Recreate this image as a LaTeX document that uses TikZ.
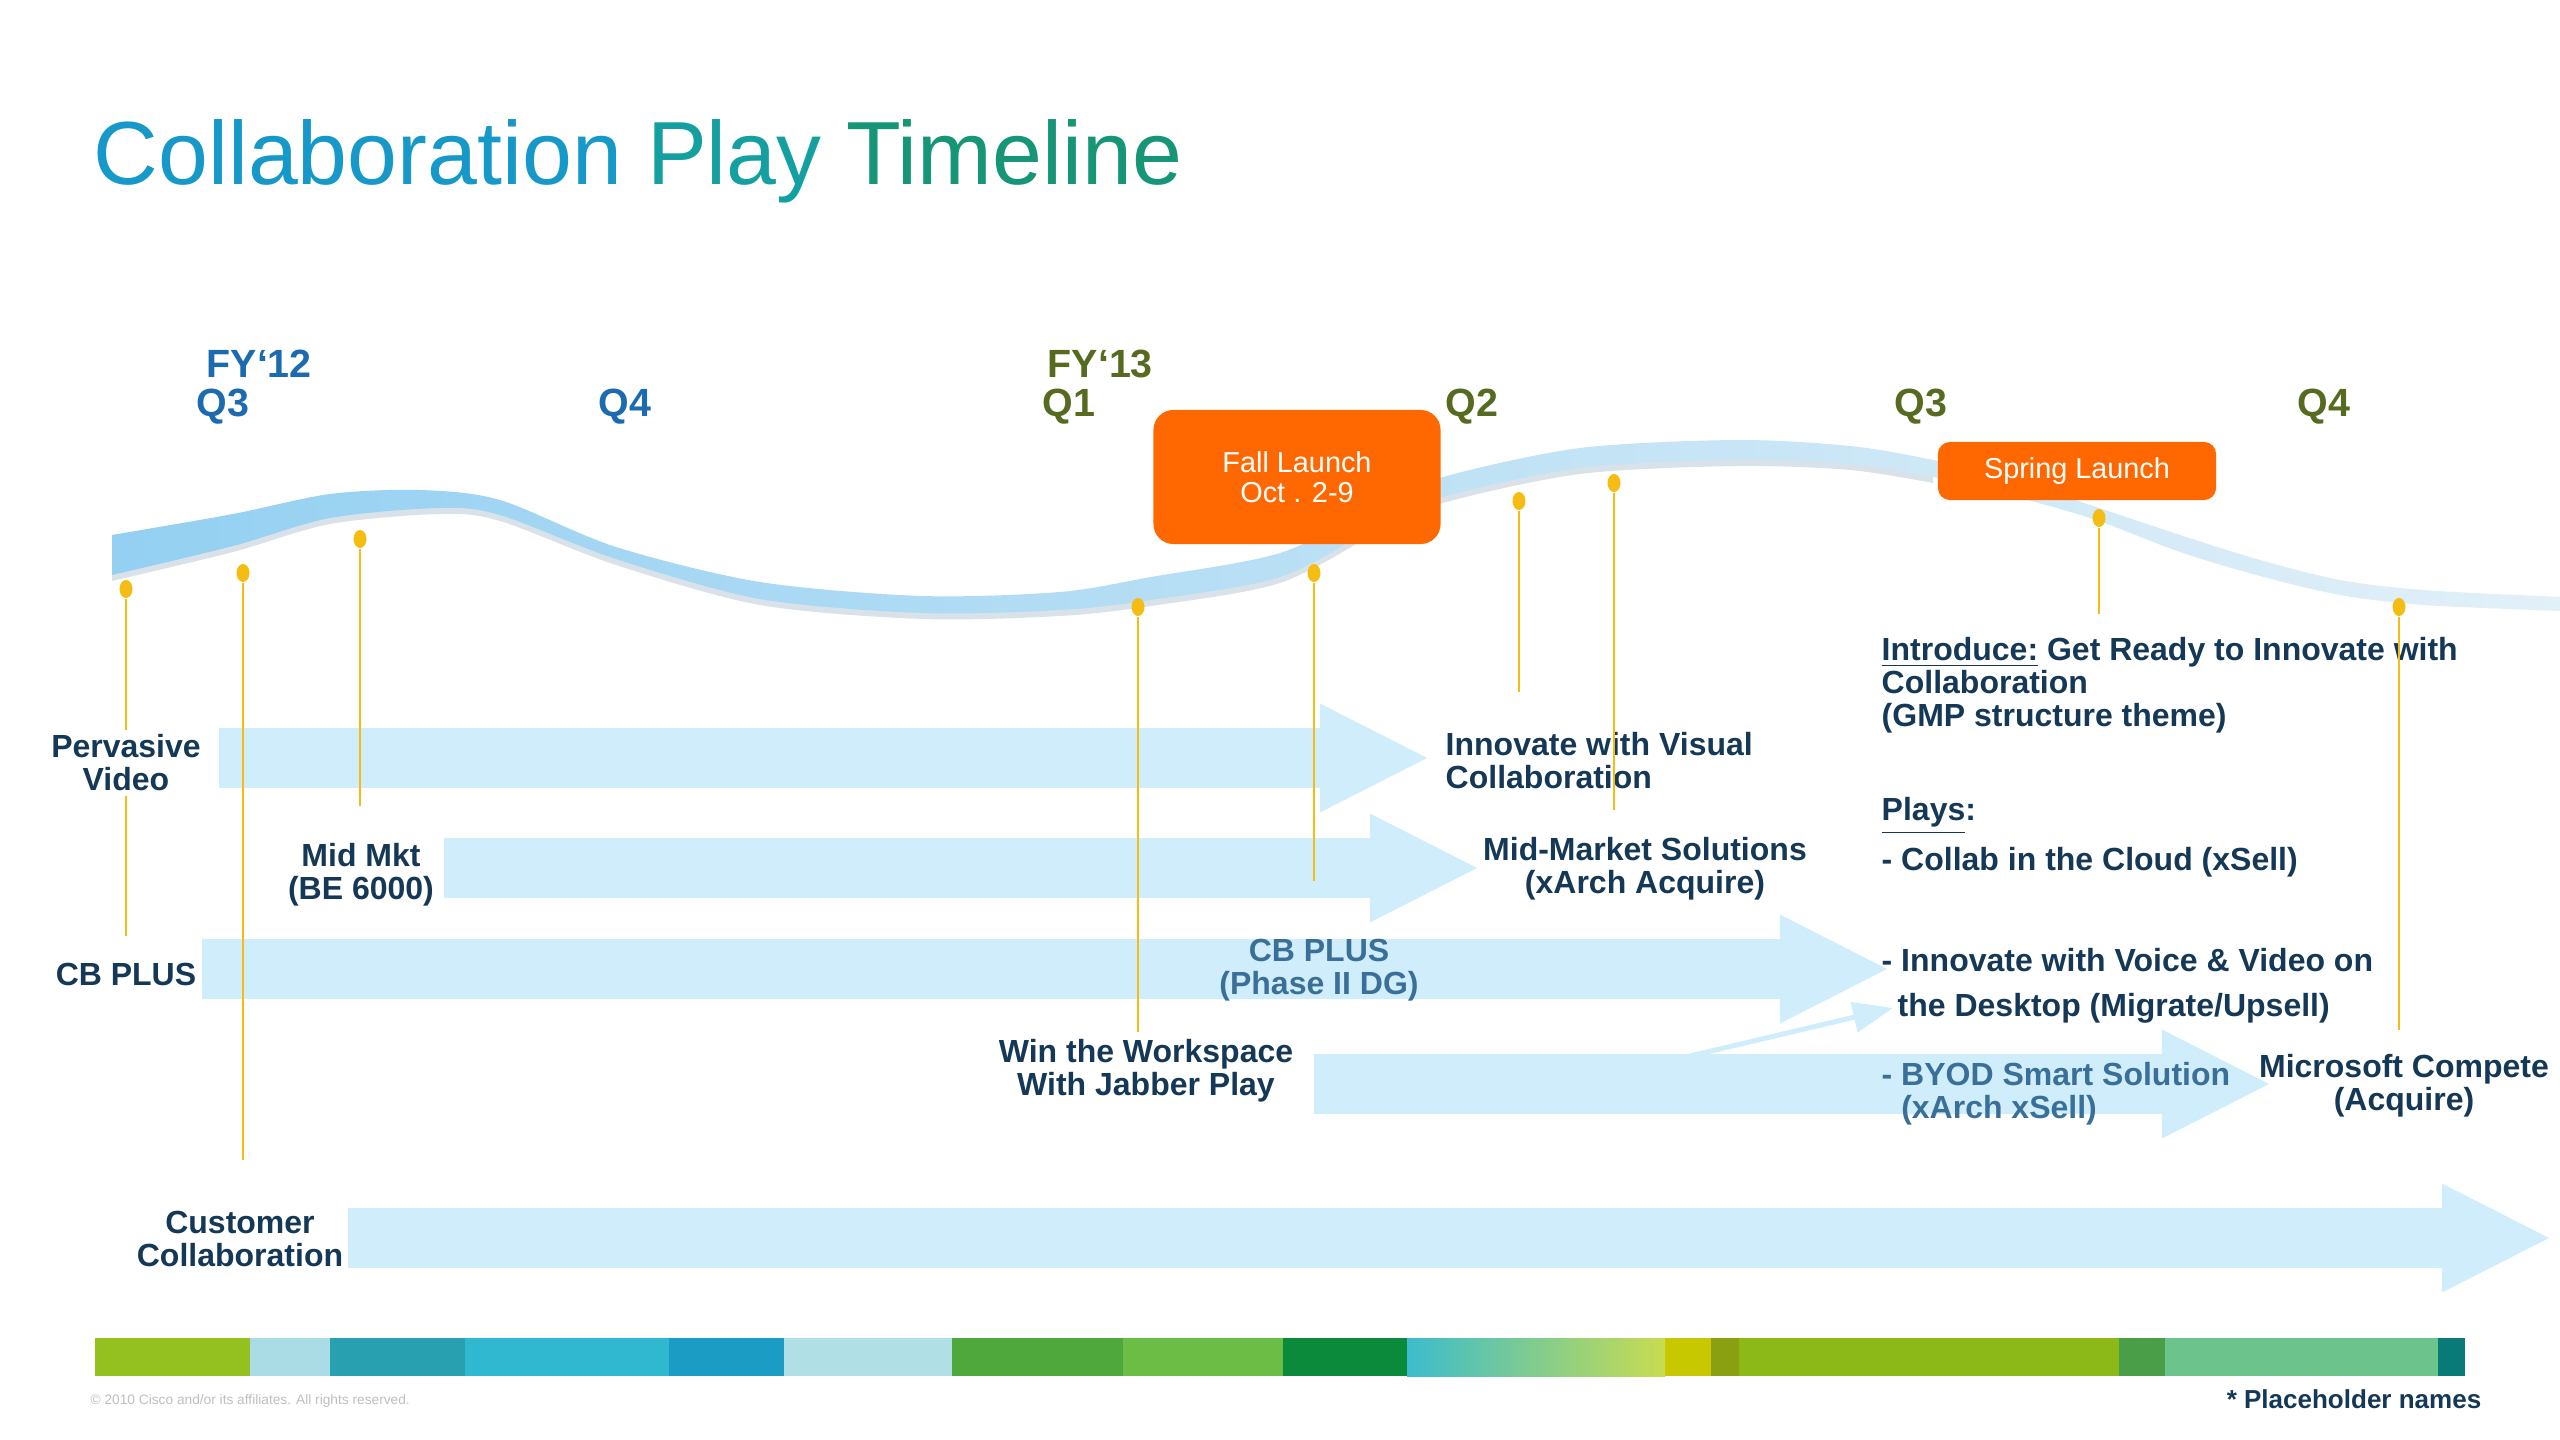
\documentclass[tikz,border=0pt]{standalone}
\usepackage{fontspec}
\setmainfont{Liberation Sans}
\usetikzlibrary{arrows.meta, shapes.geometric}
\definecolor{navyText}{RGB}{20,56,86}
\definecolor{steelText}{RGB}{58,112,152}
\definecolor{qBlue}{RGB}{28,106,176}
\definecolor{qOlive}{RGB}{86,106,32}
\definecolor{titleA}{RGB}{22,152,200}
\definecolor{titleB}{RGB}{20,160,160}
\definecolor{titleC}{RGB}{22,150,118}
\definecolor{launchOrange}{RGB}{255,104,0}
\definecolor{pinGold}{RGB}{245,188,20}
\definecolor{bandBlue}{RGB}{208,237,251}
\definecolor{ribbonBlue}{RGB}{148,208,242}
\definecolor{ribbonMid}{RGB}{168,216,240}
\definecolor{ribbonFade}{RGB}{226,240,248}
\definecolor{ribbonShade}{RGB}{170,190,205}
\definecolor{copyGray}{RGB}{190,190,190}
\definecolor{stripA}{RGB}{148,193,31}
\definecolor{stripB}{RGB}{170,220,230}
\definecolor{stripC}{RGB}{40,160,176}
\definecolor{stripD}{RGB}{48,184,208}
\definecolor{stripE}{RGB}{26,156,196}
\definecolor{stripF}{RGB}{176,223,230}
\definecolor{stripG}{RGB}{78,168,60}
\definecolor{stripH}{RGB}{108,189,69}
\definecolor{stripI}{RGB}{10,138,58}
\definecolor{stripJ}{RGB}{60,188,204}
\definecolor{stripK}{RGB}{200,220,80}
\definecolor{stripL}{RGB}{200,200,0}
\definecolor{stripM}{RGB}{138,160,16}
\definecolor{stripN}{RGB}{140,184,24}
\definecolor{stripO}{RGB}{74,158,72}
\definecolor{stripP}{RGB}{108,195,140}
\definecolor{stripQ}{RGB}{10,122,120}
\newcommand{\lblfont}{\bfseries\fontsize{9.1}{9.4}\selectfont}
\newcommand{\qfont}{\bfseries\fontsize{11.2}{12}\selectfont}
\tikzset{
    lbl/.style={inner sep=0.04cm, text=navyText, font=\lblfont, align=center},
    lblLeft/.style={lbl, anchor=west, align=left},
    qLabel/.style={inner sep=0.04cm, anchor=west, font=\qfont},
    launchBox/.style={rectangle, fill=launchOrange, text=white, align=center, font=\fontsize{8.2}{8.5}\selectfont},
    pinDot/.style={ellipse, fill=pinGold, inner sep=0pt, minimum width=1.3mm, minimum height=1.8mm},
    pinLine/.style={draw=pinGold, line width=0.6pt},
    bandArrow/.style={draw=bandBlue, line width=6mm, -{Triangle[length=11mm, width=10mm]}},
    thinArrow/.style={draw=bandBlue, line width=0.5mm, -{Triangle[length=4mm, width=3mm]}},
}
\newcommand{\drawPin}[4]{
    % 圆点与竖线
    \node[pinDot] (#1) at (#2,#3) {};
    \coordinate (#1end) at (#2,#4);
    \draw[pinLine] (#1) -- (#1end);
}
\newcommand{\drawBand}[3]{
    % 从标签右侧到箭头尖
    \coordinate (#1tip) at (#3);
    \draw[bandArrow] (#2.east |- #1tip) -- (#1tip);
}

\begin{document}
\begin{tikzpicture}[x=0.01cm, y=-0.01cm]
    \useasboundingbox (0,0) rectangle (2560,1440);

    \node[anchor=base west, inner sep=0pt, font=\fontsize{25.5}{26}\selectfont] (title) at (93,185)
        {\textcolor{titleA}{Collaboration} \textcolor{titleB}{Play} \textcolor{titleC}{Timeline}};

    \node[qLabel, text=qBlue] (fy12) at (202,364) {FY`12};
    \node[qLabel, text=qBlue] (qa3) at (192,407) {Q3};
    \node[qLabel, text=qBlue] (qa4) at (594,407) {Q4};
    \node[qLabel, text=qOlive] (fy13) at (1043,364) {FY`13};
    \node[qLabel, text=qOlive] (qb1) at (1038,407) {Q1};
    \node[qLabel, text=qOlive] (qb2) at (1441,407) {Q2};
    \node[qLabel, text=qOlive] (qb3) at (1890,407) {Q3};
    \node[qLabel, text=qOlive] (qb4) at (2293,407) {Q4};

    \fill[ribbonShade, opacity=0.45, shift={(0,6)}] plot[smooth] coordinates {(112,535) (233,514) (330,494) (420,490) (500,500) (616,547) (760,582) (922,596) (1060,592) (1151,577) (1280,553) (1380,505) (1443,477) (1580,448) (1737,440) (1850,446) (1933,460)}
        -- plot[smooth] coordinates {(1933,477) (1850,464) (1737,460) (1580,468) (1443,497) (1380,525) (1280,577) (1151,600) (1060,610) (922,613) (760,599) (616,559) (500,515) (440,508) (330,518) (233,546) (112,575)} -- cycle;
    \shade[left color=ribbonBlue, middle color=ribbonMid, right color=ribbonFade] plot[smooth] coordinates {(112,535) (233,514) (330,494) (420,490) (500,500) (616,547) (760,582) (922,596) (1060,592) (1151,577) (1280,553) (1380,505) (1443,477) (1580,448) (1737,440) (1850,446) (1933,460) (2020,482) (2096,507) (2180,535) (2260,560) (2340,580) (2423,590) (2560,597)}
        -- plot[smooth] coordinates {(2560,611) (2423,605) (2340,595) (2260,576) (2180,552) (2096,520) (2020,498) (1933,477) (1850,464) (1737,460) (1580,468) (1443,497) (1380,525) (1280,577) (1151,600) (1060,610) (922,613) (760,599) (616,559) (500,515) (440,508) (330,518) (233,546) (112,575)} -- cycle;

    \node[launchBox, rounded corners=2mm, minimum width=2.87cm, minimum height=1.34cm] (fall) at (1297,477) {Fall Launch\\Oct . 2-9};
    \node[launchBox, rounded corners=1.2mm, minimum width=2.78cm, minimum height=0.58cm] (spring) at (2077,471) {Spring Launch};

    \node[lbl, inner xsep=0.18cm] (pv) at (126,763) {Pervasive\\Video};
    \node[lbl, inner xsep=0.09cm] (mm) at (361,875) {Mid Mkt\\(BE 6000)};
    \node[lbl, inner xsep=0.05cm] (cb) at (126,974) {CB PLUS};
    \node[lbl, inner xsep=0.2cm] (ww) at (1146,1071) {Win the Workspace\\With Jabber Play};
    \node[lbl] (cc) at (240,1239) {Customer\\Collaboration};

    \drawBand{bA}{pv}{1430,758}
    \drawBand{bB}{mm}{1480,868}
    \drawBand{bC}{cb}{1890,969}
    \drawBand{bD}{ww}{2272,1084}
    \drawBand{bE}{cc}{2552,1238}

    \node[lbl, text=steelText] (cb2) at (1319,970) {CB PLUS\\(Phase II DG)};
    \node[lblLeft] (iv) at (1441,761) {Innovate with Visual\\Collaboration};
    \node[lbl] (ms) at (1645,869) {Mid-Market Solutions\\(xArch Acquire)};
    \node[lblLeft] (intro) at (1877,685) {\underline{Introduce:} Get Ready to Innovate with\\Collaboration\\(GMP structure theme)};
    \node[lblLeft] (plays) at (1877,816) {\underline{Plays}:};
    \node[lblLeft] (cl) at (1877,862) {- Collab in the Cloud (xSell)};
    \node[lblLeft] (vv) at (1877,960) {- Innovate with Voice \& Video on};
    \node[lblLeft] (dt) at (1893,1008) {the Desktop (Migrate/Upsell)};
    \node[lblLeft, text=steelText] (by) at (1877,1094) {- BYOD Smart Solution\\\phantom{- }(xArch xSell)};
    \node[lbl] (mc) at (2404,1086) {Microsoft Compete\\(Acquire)};

    \coordinate (dgS) at (1690,1056);
    \draw[thinArrow] (dgS) -- (dt.west);

    \node[pinDot] (pA) at (126,589) {};
    \coordinate (pAend) at (126,936);
    \draw[pinLine] (pA) -- (pv.north);
    \draw[pinLine] (pv.south) -- (pAend);
    \drawPin{pB}{243}{573}{1160}
    \drawPin{pC}{360}{539}{806}
    \drawPin{pD}{1138}{607}{1032}
    \drawPin{pE}{1314}{573}{881}
    \drawPin{pF}{1519}{501}{692}
    \drawPin{pG}{1614}{483}{810}
    \drawPin{pH}{2099}{518}{614}
    \drawPin{pI}{2399}{607}{1030}

    \foreach \xa/\xb/\col in {95/250/stripA, 250/330/stripB, 330/465/stripC, 465/669/stripD, 669/784/stripE, 784/952/stripF, 952/1123/stripG, 1123/1283/stripH, 1283/1407/stripI, 1665/1711/stripL, 1711/1739/stripM, 1739/2119/stripN, 2119/2165/stripO, 2165/2438/stripP, 2438/2465/stripQ}
        \fill[\col] (\xa,1338) rectangle (\xb,1376);
    \shade[left color=stripJ, right color=stripK] (1407,1338) rectangle (1665,1376);

    \node[anchor=west, inner sep=0pt, text=copyGray, font=\fontsize{3.9}{4}\selectfont] (copy) at (90,1401) {© 2010 Cisco and/or its affiliates. All rights reserved.};
    \node[anchor=east, inner sep=0pt, text=navyText, font=\bfseries\fontsize{7.4}{8}\selectfont] (note) at (2482,1399) {* Placeholder names};

\end{tikzpicture}
\end{document}
